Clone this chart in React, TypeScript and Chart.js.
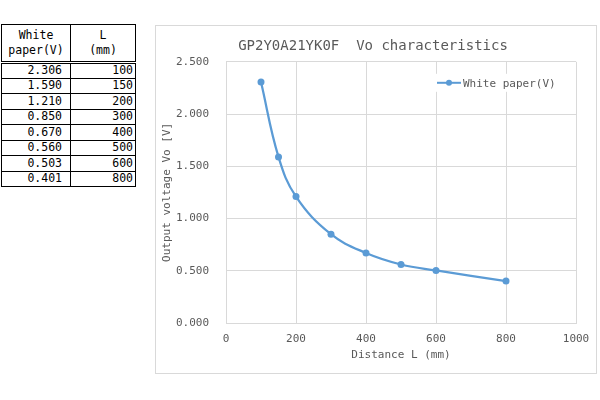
import React, { useEffect, useRef } from "react";
import { Chart, registerables } from "chart.js";

Chart.register(...registerables);

const distances = [100, 150, 200, 300, 400, 500, 600, 800];
const voltages = [2.306, 1.59, 1.21, 0.85, 0.67, 0.56, 0.503, 0.401];
const seriesLabel = "White paper(V)";
const chartTitle = "GP2Y0A21YK0F  Vo characteristics";
const xTitle = "Distance L (mm)";
const yTitle = "Output voltage Vo [V]";
const tableHeaderV = ["White", "paper(V)"];
const tableHeaderL = ["L", "(mm)"];

const MONO = "'DejaVu Sans Mono', 'Liberation Mono', monospace";
const TXT = "#595959";
const GRID = "#d9d9d9";
const BLUE = "#5B9BD5";

const legendPlugin = {
  id: "insideLegend",
  afterDraw(chart: any) {
    const ca = chart.chartArea;
    const ctx = chart.ctx;
    const ds = chart.data.datasets[0];
    const x0 = ca.right - 139;
    const y = ca.top + 21;
    ctx.save();
    ctx.font = "11px " + MONO;
    const tw = ctx.measureText(ds.label).width;
    ctx.fillStyle = "#ffffff";
    ctx.fillRect(x0 - 3, y - 9, 26 + tw + 6, 18);
    ctx.strokeStyle = BLUE;
    ctx.lineWidth = 2;
    ctx.beginPath();
    ctx.moveTo(x0, y);
    ctx.lineTo(x0 + 24, y);
    ctx.stroke();
    ctx.fillStyle = BLUE;
    ctx.beginPath();
    ctx.arc(x0 + 12, y, 3, 0, Math.PI * 2);
    ctx.fill();
    ctx.fillStyle = TXT;
    ctx.textBaseline = "middle";
    ctx.textAlign = "left";
    ctx.fillText(ds.label, x0 + 26, y + 1);
    ctx.restore();
  },
};

function ChartBox() {
  const ref = useRef<HTMLCanvasElement | null>(null);
  useEffect(() => {
    if (!ref.current) return;
    const chart = new Chart(ref.current, {
      type: "line",
      data: {
        datasets: [
          {
            label: seriesLabel,
            data: distances.map((d, i) => ({ x: d, y: voltages[i] })),
            borderColor: BLUE,
            backgroundColor: BLUE,
            borderWidth: 2.25,
            pointRadius: 3.5,
            pointBackgroundColor: BLUE,
            pointBorderWidth: 0,
            tension: 0.4,
            fill: false,
          },
        ],
      },
      options: {
        responsive: false,
        animation: false,
        devicePixelRatio: 1,
        layout: { padding: { left: 0, right: 6, top: 0, bottom: 0 } },
        plugins: {
          legend: { display: false },
          tooltip: { enabled: false },
          title: {
            display: true,
            text: chartTitle,
            color: TXT,
            font: { family: MONO, size: 14, weight: "normal" },
            padding: { top: 12, bottom: 7 },
          },
        },
        scales: {
          x: {
            type: "linear",
            min: 0,
            max: 1000,
            ticks: {
              stepSize: 200,
              color: TXT,
              font: { family: MONO, size: 11 },
              padding: 10,
              maxRotation: 0,
              callback: (v: any) => String(v),
            },
            grid: { color: GRID, drawTicks: false },
            border: { color: GRID },
            title: {
              display: true,
              text: xTitle,
              color: TXT,
              font: { family: MONO, size: 11 },
              padding: { top: 0, bottom: 11 },
            },
            afterFit(scale: any) {
              scale.height = 50;
              scale.paddingRight = 20;
            },
          },
          y: {
            type: "linear",
            min: 0,
            max: 2.5,
            ticks: {
              stepSize: 0.5,
              color: TXT,
              font: { family: MONO, size: 11 },
              padding: 17,
              callback: (v: any) => Number(v).toFixed(3),
            },
            grid: { color: GRID, drawTicks: false },
            border: { color: GRID },
            title: {
              display: true,
              text: yTitle,
              color: TXT,
              font: { family: MONO, size: 11 },
              padding: { top: 5, bottom: 0 },
            },
            afterFit(scale: any) {
              scale.width = 70;
            },
          },
        },
      } as any,
      plugins: [legendPlugin],
    });
    return () => chart.destroy();
  }, []);
  return (
    <div
      style={{
        position: "absolute",
        left: 155,
        top: 25,
        width: 442,
        height: 349,
        border: "1px solid " + GRID,
        boxSizing: "border-box",
        background: "#fff",
      }}
    >
      <canvas ref={ref} width={440} height={347} style={{ display: "block" }} />
    </div>
  );
}

function DataTable() {
  const cell: React.CSSProperties = {
    border: "1px solid #000",
    padding: 0,
    lineHeight: "13px",
  };
  return (
    <table
      style={{
        position: "absolute",
        left: 1,
        top: 24,
        width: 135,
        borderCollapse: "collapse",
        tableLayout: "fixed",
        fontFamily: MONO,
        fontSize: 11.5,
        color: "#000",
      }}
    >
      <colgroup>
        <col style={{ width: 69 }} />
        <col style={{ width: 65 }} />
      </colgroup>
      <tbody>
        <tr style={{ height: 38 }}>
          <td style={{ ...cell, textAlign: "center", borderBottom: "3px double #000", lineHeight: "15px" }}>
            {tableHeaderV[0]}
            <br />
            {tableHeaderV[1]}
          </td>
          <td style={{ ...cell, textAlign: "center", borderBottom: "3px double #000", lineHeight: "15px" }}>
            {tableHeaderL[0]}
            <br />
            {tableHeaderL[1]}
          </td>
        </tr>
        {voltages.map((v, i) => (
          <tr key={i} style={{ height: 15.5 }}>
            <td style={{ ...cell, textAlign: "right", paddingRight: 8 }}>{v.toFixed(3)}</td>
            <td style={{ ...cell, textAlign: "right", paddingRight: 2 }}>{distances[i]}</td>
          </tr>
        ))}
      </tbody>
    </table>
  );
}

export default function App() {
  return (
    <div
      style={{
        position: "fixed",
        left: 0,
        top: 0,
        width: 600,
        height: 400,
        background: "#fff",
        overflow: "hidden",
      }}
    >
      <DataTable />
      <ChartBox />
    </div>
  );
}
